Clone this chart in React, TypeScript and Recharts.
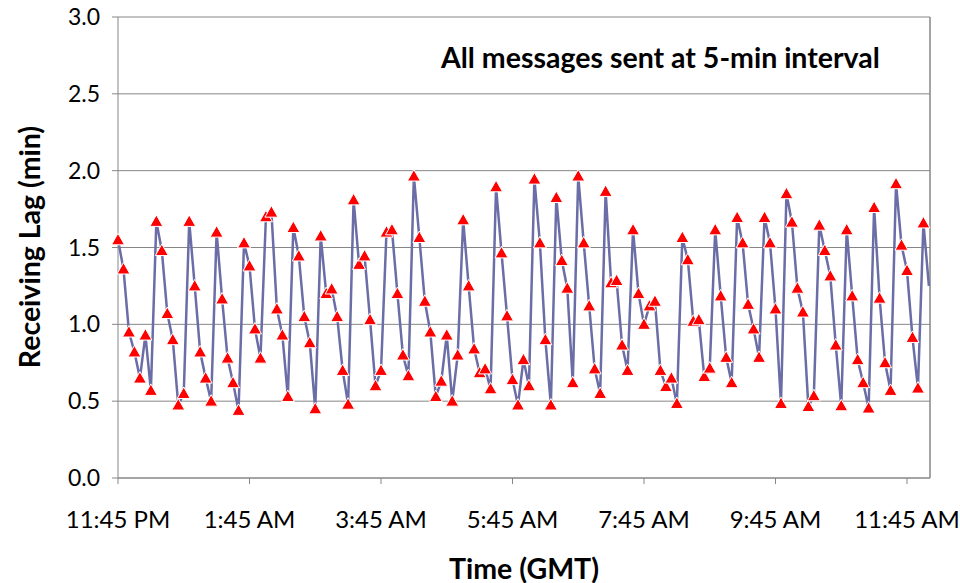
import { LineChart, Line, XAxis, YAxis, CartesianGrid, ReferenceLine } from "recharts"

// receiving lag (min) for each message, one every 5 minutes starting 11:45 PM
const lag = [
  1.55, 1.36, 0.95, 0.82, 0.65, 0.93, 0.57, 1.67, 1.48, 1.07, 0.9, 0.475, 0.55, 1.67, 1.25, 0.82, 0.65, 0.5,
  1.6, 1.165, 0.78, 0.62, 0.44, 1.53, 1.38, 0.97, 0.78, 1.7, 1.73, 1.1, 0.93, 0.53, 1.63, 1.445, 1.05, 0.88,
  0.45, 1.575, 1.2, 1.23, 1.05, 0.7, 0.48, 1.81, 1.39, 1.445, 1.03, 0.6, 0.7, 1.6, 1.615, 1.2, 0.8, 0.665,
  1.965, 1.565, 1.15, 0.95, 0.53, 0.63, 0.93, 0.5, 0.8, 1.68, 1.25, 0.84, 0.685, 0.71, 0.58, 1.895, 1.465,
  1.055, 0.64, 0.475, 0.77, 0.6, 1.945, 1.53, 0.9, 0.475, 1.825, 1.415, 1.235, 0.62, 1.965, 1.53, 1.12, 0.71,
  0.55, 1.865, 1.27, 1.285, 0.865, 0.7, 1.615, 1.2, 1.0, 1.12, 1.15, 0.7, 0.595, 0.65, 0.485, 1.565, 1.42,
  1.02, 1.03, 0.66, 0.715, 1.615, 1.185, 0.785, 0.62, 1.695, 1.53, 1.13, 0.97, 0.785, 1.695, 1.53, 1.1, 0.485,
  1.85, 1.665, 1.235, 1.08, 0.465, 0.535, 1.645, 1.48, 1.315, 0.865, 0.47, 1.615, 1.185, 0.77, 0.62, 0.455,
  1.76, 1.17, 0.75, 0.57, 1.915, 1.515, 1.35, 0.915, 0.585, 1.66, 1.25,
]

const timeTicks = [0, 24, 48, 72, 96, 120, 144]
const timeLabels = ["11:45 PM", "1:45 AM", "3:45 AM", "5:45 AM", "7:45 AM", "9:45 AM", "11:45 AM"]
const lagTicks = [0, 0.5, 1, 1.5, 2, 2.5, 3]

const X_MAX = 148.2
const FONT = "Lato, 'Open Sans', sans-serif"
const AXIS_GRAY = "#868686"

const data = lag.map((v, i) => ({ i, lag: v }))

function Triangle(props: any) {
  const { cx, cy, index } = props
  if (cx == null || cy == null || index > 147) return null
  return (
    <polygon
      key={"m" + index}
      points={`${cx},${cy - 6.5} ${cx + 6.5},${cy + 5} ${cx - 6.5},${cy + 5}`}
      fill="#ff0000"
      stroke="#ffffff"
      strokeWidth={1}
    />
  )
}

const labelStyle = {
  position: "absolute" as const,
  fontSize: 28.5,
  fontWeight: 700,
  whiteSpace: "nowrap" as const,
  color: "#000",
  lineHeight: 1,
}

export default function App() {
  return (
    <div style={{ position: "absolute", left: 0, top: 0, width: 960, height: 583, background: "#fff", fontFamily: FONT }}>
      <LineChart width={960} height={583} data={data} margin={{ top: 17, right: 30, left: 0, bottom: 45 }}>
        <CartesianGrid horizontal vertical={false} stroke={AXIS_GRAY} strokeWidth={1} />
        <XAxis
          dataKey="i"
          type="number"
          domain={[0, X_MAX]}
          ticks={timeTicks}
          tickFormatter={(v: number) => timeLabels[timeTicks.indexOf(v)] ?? ""}
          height={60}
          tickSize={6}
          tickMargin={27}
          stroke={AXIS_GRAY}
          tick={{ fill: "#000", fontSize: 24, fontFamily: FONT }}
          interval={0}
        />
        <YAxis
          type="number"
          domain={[0, 3]}
          ticks={lagTicks}
          tickFormatter={(v: number) => v.toFixed(1)}
          width={118}
          tickSize={6}
          tickMargin={12}
          stroke={AXIS_GRAY}
          tick={{ fill: "#000", fontSize: 23, fontFamily: FONT }}
          interval={0}
        />
        <ReferenceLine x={X_MAX} stroke={AXIS_GRAY} strokeWidth={1.5} />
        <Line
          type="linear"
          dataKey="lag"
          stroke="#6a6da6"
          strokeWidth={2.5}
          dot={Triangle}
          activeDot={false}
          isAnimationActive={false}
        />
      </LineChart>
      <div style={{ ...labelStyle, left: 441, top: 57, transform: "translateY(-50%)" }}>
        All messages sent at 5-min interval
      </div>
      <div style={{ ...labelStyle, left: 29, top: 247, transform: "translate(-50%, -50%) rotate(-90deg)" }}>
        Receiving Lag (min)
      </div>
      <div style={{ ...labelStyle, left: 524, top: 568, transform: "translate(-50%, -50%)" }}>
        Time (GMT)
      </div>
    </div>
  )
}
